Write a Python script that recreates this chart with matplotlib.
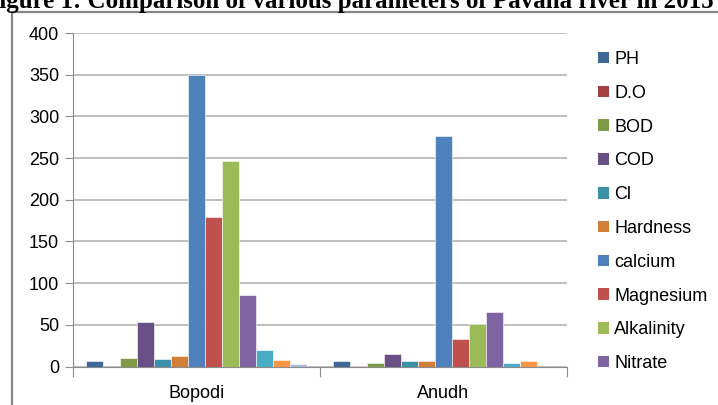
import numpy as np
import matplotlib.pyplot as plt
from matplotlib.patches import Rectangle, Patch

plt.rcParams['font.family'] = ['Liberation Sans', 'DejaVu Sans']

sites = ['Bopodi', 'Anudh']
params = ['PH', 'D.O', 'BOD', 'COD', 'Cl', 'Hardness', 'calcium',
          'Magnesium', 'Alkalinity', 'Nitrate', 'Sulphate', 'Phosphate', 'Turbidity']
bopodi = [7, 0, 10, 53, 9, 13, 350, 179, 246, 86, 20, 8, 2.5]
anudh = [7, 1, 4.5, 15.5, 7, 7, 276, 32.5, 51.5, 65.5, 4, 6, 0]

colors = ['#3F6899', '#A2413E', '#7F9B47', '#684F86', '#3D91A7', '#D27E38',
          '#4F81BD', '#C0504D', '#9BBB59', '#8064A2', '#4BACC6', '#F79646', '#A9B8DB']

fig = plt.figure(figsize=(7.18, 4.05), dpi=100)
W, H = 718, 405

# title line, partly out of frame
fig.text(-16 / W, 1 - 8 / H, 'Figure 1: Comparison of various parameters of Pavana river in 2015',
         family=['Liberation Serif'], weight='bold', fontsize=18, ha='left', va='baseline')

# chart border
fig.patches.append(Rectangle((12 / W, -0.1), 1.2, 1.1 - 12 / H, transform=fig.transFigure,
                             fill=False, edgecolor='#868686', linewidth=1.6))

ax = fig.add_axes([73 / W, 1 - 366.5 / H, (566.7 - 73) / W, (366.5 - 33) / H])

n = len(params)
w = 1 / (n + 1.5)
x = np.arange(len(sites))
for i, p in enumerate(params):
    vals = [bopodi[i], anudh[i]]
    ax.bar(x + (i - (n - 1) / 2) * w, vals, width=w, color=colors[i],
           edgecolor='white', linewidth=0.4, zorder=3)

ax.set_xlim(-0.5, 1.5)
ax.set_ylim(0, 400)
ax.set_yticks(np.arange(0, 401, 50))
ax.set_xticks([-0.5, 0.5, 1.5], minor=False)
ax.set_xticklabels([])
ax.set_xticks(x, minor=True)
ax.set_xticklabels(sites, minor=True)
ax.tick_params(axis='x', which='major', length=7, color='#8C8C8C', direction='out')
ax.tick_params(axis='x', which='minor', length=0, pad=13, labelsize=13)
ax.tick_params(axis='y', length=6, color='#8C8C8C', labelsize=13, pad=4)
ax.yaxis.grid(True, color='#B4B4B4', linewidth=1.2, zorder=0)
for s in ['top', 'right']:
    ax.spines[s].set_visible(False)
for s in ['left', 'bottom']:
    ax.spines[s].set_color('#8C8C8C')

handles = [Patch(facecolor=colors[i], edgecolor='none') for i in range(10)]
fig.legend(handles, params[:10], loc='upper left', bbox_to_anchor=(598 / W, 1 - 51 / H),
           frameon=False, fontsize=13, handlelength=0.6, handleheight=0.6,
           handletextpad=0.3, labelspacing=0.93, borderaxespad=0, borderpad=0)

fig.savefig('out.png', dpi=100)
